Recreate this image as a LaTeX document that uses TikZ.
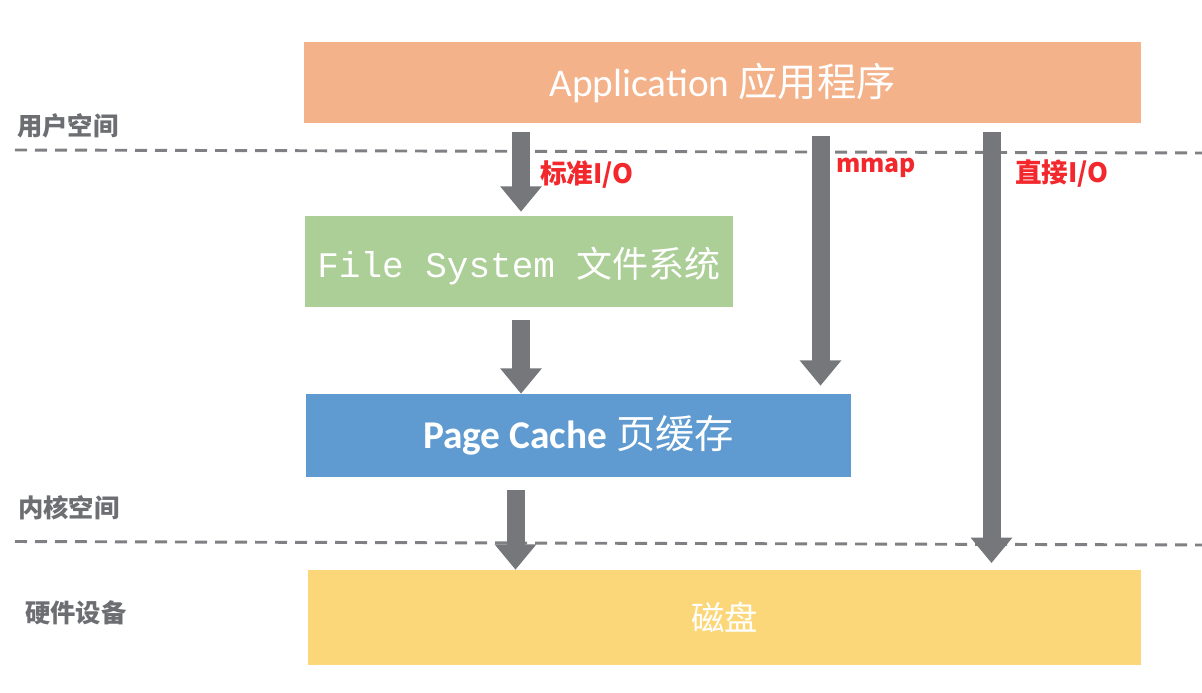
\documentclass[tikz,border=0pt]{standalone}
\usepackage{fontspec}
\setmainfont{Carlito}
\newfontfamily\cjk{Noto Sans CJK SC}
\newfontfamily\monof{Liberation Mono}
\usetikzlibrary{arrows.meta}
\definecolor{appc}{HTML}{F4B28A}
\definecolor{fsc}{HTML}{ACCE97}
\definecolor{pcc}{HTML}{5F9BD0}
\definecolor{diskc}{HTML}{FCD77A}
\definecolor{arrc}{HTML}{75777B}
\definecolor{dashc}{HTML}{7F8083}
\definecolor{lblc}{HTML}{6D6E71}
\definecolor{redc}{HTML}{F2282C}
\tikzset{
 layer/.style={rectangle, inner sep=0pt, text=white},
 flow/.style={draw=arrc, line width=13.5pt, -{Triangle[width=30pt,length=19pt]}},
 sep/.style={draw=dashc, line width=2.2pt, dash pattern=on 9pt off 6pt},
 zone/.style={anchor=west, text=lblc, font=\cjk\bfseries\fontsize{19}{21}\selectfont, inner sep=0pt},
 tag/.style={anchor=west, text=redc, font=\cjk\bfseries\fontsize{20}{22}\selectfont, inner sep=0pt},
}
\begin{document}
\begin{tikzpicture}[x=0.75pt,y=-0.75pt]
\useasboundingbox (0,0) rectangle (1202,692);
% layers
\node[layer, fill=appc, minimum width=627.75pt, minimum height=60.75pt] (app) at (722.5,82.5)
  {\fontsize{29.5}{31}\selectfont Application {\cjk 应用程序}};
\node[layer, fill=fsc, minimum width=321pt, minimum height=68.25pt] (fs) at (519,261.5)
  {};
\node[text=white, inner sep=0pt] (fst) at (519,266)
  {\fontsize{27}{29}\selectfont\monof File System {\cjk 文件系统}};
\node[layer, fill=pcc, minimum width=408.75pt, minimum height=62.25pt] (pc) at (578.5,435.5)
  {\fontsize{29.5}{31}\selectfont\bfseries Page Cache {\cjk\mdseries 页缓存}};
\node[layer, fill=diskc, minimum width=624.75pt, minimum height=71.25pt] (disk) at (724.5,617.5)
  {\fontsize{25}{27}\selectfont\cjk 磁盘};
% separators
\draw[sep] (15,150) -- (1202,153);
\draw[sep] (15,541.5) -- (1202,545);
% zone labels
\node[zone] (uz) at (17,126) {用户空间};
\node[zone] (kz) at (18,508) {内核空间};
\node[zone] (hz) at (25,613) {硬件设备};
% arrows
\coordinate (s1) at (521,132);
\coordinate (s2) at (521,320);
\coordinate (s3) at (820.5,136);
\coordinate (s4) at (991.5,132);
\coordinate (s5) at (515.5,490);
\draw[flow, shorten >=3pt] (s1) -- (s1 |- fs.north);
\draw[flow] (s2) -- (s2 |- pc.north);
\draw[flow, shorten >=6pt] (s3) -- (s3 |- pc.north);
\draw[flow, shorten >=5pt] (s4) -- (s4 |- disk.north);
\draw[flow] (s5) -- (s5 |- disk.north);
% arrow labels
\node[tag] (t1) at (540,175) {标准I/O};
\node[tag, font=\cjk\bfseries\fontsize{18.5}{20}\selectfont] (t2) at (836,168) {mmap};
\node[tag] (t3) at (1015,173) {直接I/O};
\end{tikzpicture}
\end{document}
